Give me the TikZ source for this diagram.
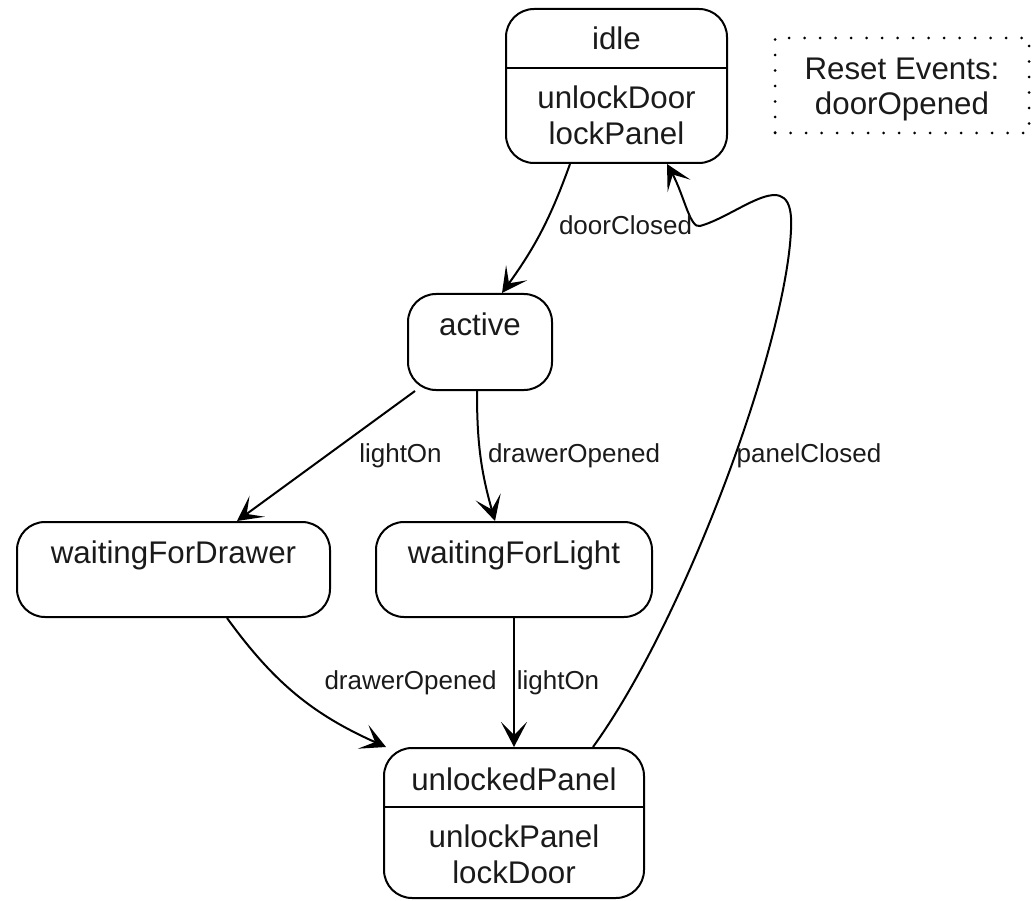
\documentclass[tikz,border=0pt]{standalone}
\usepackage{fontspec}
\setmainfont{Liberation Sans}
\usepackage{tikz}
\usetikzlibrary{arrows.meta}
\definecolor{ink}{HTML}{1A1A1A}

\tikzset{
  statebox/.style={draw, line width=2pt, rounded corners=28pt, inner sep=0pt},
  stateName/.style={anchor=base, text=ink, font=\fontsize{31.3}{36}\selectfont},
  actText/.style={align=center, text=ink, font=\fontsize{31.3}{36}\selectfont},
  evLabel/.style={anchor=base, text=ink, font=\fontsize{26}{30}\selectfont},
  trans/.style={-{Stealth[length=25pt,width=26pt,inset=13pt]}, line width=2pt},
}

\begin{document}
\begin{tikzpicture}[x=1pt, y=-1pt]
\useasboundingbox (0,0) rectangle (1036,901);

% states
\node[statebox, minimum width=221pt, minimum height=154pt] (idle) at (616.5,86) {};
\node[statebox, minimum width=144pt, minimum height=96pt] (active) at (480,342) {};
\node[statebox, minimum width=313pt, minimum height=95pt] (waitDrawer) at (173.5,569.5) {};
\node[statebox, minimum width=276pt, minimum height=95pt] (waitLight) at (514,569.5) {};
\node[statebox, minimum width=260pt, minimum height=150pt] (unlocked) at (514,823) {};

\draw[line width=2pt] (idle.west |- 0,68) -- (idle.east |- 0,68);
\draw[line width=2pt] (unlocked.west |- 0,807) -- (unlocked.east |- 0,807);

\node[stateName] (idleName) at (616.5,50) {idle};
\node[actText] (idleActs) at (616.5,115.5) {unlockDoor\\lockPanel};
\node[stateName] (activeName) at (480,335) {active};
\node[stateName] (waitDrawerName) at (173.5,563) {waitingForDrawer};
\node[stateName] (waitLightName) at (514,563) {waitingForLight};
\node[stateName] (unlockedName) at (514,790) {unlockedPanel};
\node[actText] (unlockedActs) at (514,854) {unlockPanel\\lockDoor};

% reset events
\node[draw, dash pattern=on 0pt off 15.5pt, line cap=round, line width=3pt,
  minimum width=254pt, minimum height=95pt] (reset) at (902,85.5) {};
\node[align=center, text=ink, font=\fontsize{31.3}{35}\selectfont]
  (resetText) at (902,89.5) {Reset Events:\\doorOpened};

% transitions
\draw[trans] ([xshift=-46.5pt]idle.south) to[bend left=8] ([xshift=22pt]active.north);
\draw[trans] ([xshift=-65pt]active.south) -- ([xshift=63.5pt]waitDrawer.north);
\draw[trans] ([xshift=-3pt]active.south) to[bend right=8] ([xshift=-19pt]waitLight.north);
\draw[trans] ([xshift=53.5pt]waitDrawer.south) to[bend right=15] ([xshift=3pt]unlocked.north west);
\draw[trans] (waitLight.south) -- (unlocked.north);
\draw[trans] ([xshift=79pt]unlocked.north) .. controls (685,620) and (786,345) .. (791,230)
  .. controls (795,160) and (740,215) .. (700,226)
  .. controls (690,229) and (684,195) .. ([xshift=50.5pt]idle.south);

\node[evLabel] (lblDoorClosed) at (625.5,235) {doorClosed};
\node[evLabel] (lblLightOnA) at (400.5,462) {lightOn};
\node[evLabel] (lblDrawerA) at (574,462) {drawerOpened};
\node[evLabel] (lblPanelClosed) at (809,462) {panelClosed};
\node[evLabel] (lblDrawerB) at (410.5,689) {drawerOpened};
\node[evLabel] (lblLightOnB) at (558,689) {lightOn};
\end{tikzpicture}
\end{document}
